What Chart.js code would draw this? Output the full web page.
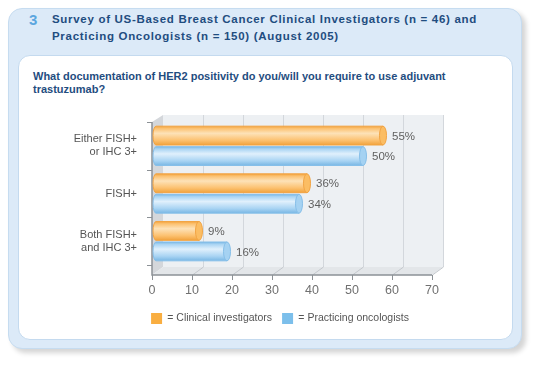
<!DOCTYPE html>
<html>
<head>
<meta charset="utf-8">
<script src="https://cdn.jsdelivr.net/npm/chart.js@4.4.1/dist/chart.umd.min.js"></script>
<style>
  body { margin: 0; background: #fff; width: 540px; height: 365px; position: relative; overflow: hidden; font-family: "Liberation Sans", Arial, sans-serif; }
  .outer { position: absolute; left: 8px; top: 8px; width: 512px; height: 339px; background: #dceaf8; border: 1px solid #c6dcf0; border-radius: 14px; box-shadow: 4px 4px 5px rgba(0,0,0,0.17); }
  .inner { position: absolute; left: 18px; top: 55px; width: 493px; height: 283px; background: #fff; border: 1px solid #c4daef; border-radius: 12px; }
  .num { position: absolute; left: 29px; top: 11px; font-weight: bold; font-size: 15px; color: #5ba6df; }
  .title { position: absolute; left: 52px; top: 11px; font-weight: bold; font-size: 11.5px; line-height: 17px; color: #1f4d80; letter-spacing: 0.7px; }
  .question { position: absolute; left: 33px; top: 70px; font-weight: bold; font-size: 11px; line-height: 13px; color: #1f4d80; }
  canvas { position: absolute; left: 0; top: 0; }
</style>
</head>
<body>
<div class="outer"></div>
<div class="inner"></div>
<div class="num">3</div>
<div class="title">Survey of US-Based Breast Cancer Clinical Investigators (n = 46) and<br>Practicing Oncologists (n = 150) (August 2005)</div>
<div class="question">What documentation of HER2 positivity do you/will you require to use adjuvant<br>trastuzumab?</div>
<canvas id="myChart" width="540" height="365"></canvas>
<script>
// data
const categories = [['Either FISH+', 'or IHC 3+'], 'FISH+', ['Both FISH+', 'and IHC 3+']];
const clinicalInvestigators = [55, 36, 9];
const practicingOncologists = [50, 34, 16];
const xTicks = [0, 10, 20, 30, 40, 50, 60, 70];

const ORANGE = '#f9ae41';
const BLUE = '#7cbfeb';
const DX = 11; // depth offset of the fake 3D floor
const DY = 8;

// shades for the cylinder gradients
const shades = {
  orange: { edge: '#f1a23c', light: '#fde2b8', mid: '#fcc170', stroke: '#f2a443', cap: '#fbbd63' },
  blue: { edge: '#79b7e4', light: '#e0f0fc', mid: '#a9d4f3', stroke: '#86bfe9', cap: '#a5d2f2' }
};

const threeD = {
  id: 'threeD',
  beforeDatasetsDraw(chart) {
    const { ctx, chartArea: a, scales } = chart;
    const xs = scales.x, ys = scales.y;
    const top = a.top - 7, back = a.bottom + 2, front = a.bottom + DY + 2;
    ctx.save();
    // back wall
    ctx.fillStyle = '#edf0f3';
    ctx.fillRect(a.left, top, a.right - a.left, back - top);
    // side wall
    ctx.fillStyle = '#d4d7db';
    ctx.beginPath();
    ctx.moveTo(a.left - DX, a.top);
    ctx.lineTo(a.left, top);
    ctx.lineTo(a.left, back);
    ctx.lineTo(a.left - DX, front);
    ctx.closePath();
    ctx.fill();
    // floor
    ctx.fillStyle = '#e3e6e9';
    ctx.beginPath();
    ctx.moveTo(a.left, back);
    ctx.lineTo(a.right, back);
    ctx.lineTo(a.right - DX, front);
    ctx.lineTo(a.left - DX, front);
    ctx.closePath();
    ctx.fill();
    // grid lines on wall and floor
    ctx.lineWidth = 1;
    xTicks.forEach(v => {
      if (v === 0) return;
      const x = Math.round(xs.getPixelForValue(v)) + 0.5;
      ctx.strokeStyle = '#d3d7dc';
      ctx.beginPath();
      ctx.moveTo(x, top);
      ctx.lineTo(x, back);
      ctx.stroke();
      ctx.strokeStyle = '#c4c8cd';
      ctx.beginPath();
      ctx.moveTo(x, back);
      ctx.lineTo(x - DX, front);
      ctx.stroke();
    });
    // front axes
    ctx.strokeStyle = '#8c9196';
    ctx.lineWidth = 1.5;
    ctx.beginPath();
    ctx.moveTo(a.left - DX, a.top);
    ctx.lineTo(a.left - DX, front);
    ctx.lineTo(a.right - DX, front);
    ctx.stroke();
    ctx.lineWidth = 1;
    xTicks.forEach(v => {
      const x = Math.round(xs.getPixelForValue(v) - DX) + 0.5;
      ctx.beginPath();
      ctx.moveTo(x, front);
      ctx.lineTo(x, front + 5);
      ctx.stroke();
    });
    for (let i = 0; i <= categories.length; i++) {
      const y = Math.round(ys.getPixelForValue(i - 0.5)) + 0.5;
      ctx.beginPath();
      ctx.moveTo(a.left - DX - 5, y);
      ctx.lineTo(a.left - DX, y);
      ctx.stroke();
    }
    ctx.restore();
  },
  afterDatasetsDraw(chart) {
    const { ctx, chartArea: a } = chart;
    const x0 = a.left - DX + 1;
    ctx.save();
    chart.data.datasets.forEach((ds, di) => {
      const s = shades[ds.shade];
      chart.getDatasetMeta(di).data.forEach((bar, i) => {
        const h = bar.height, yT = bar.y - h / 2, yB = bar.y + h / 2, xe = bar.x;
        const g = ctx.createLinearGradient(0, yT, 0, yB);
        g.addColorStop(0, s.edge);
        g.addColorStop(0.12, s.mid);
        g.addColorStop(0.38, s.light);
        g.addColorStop(0.75, s.mid);
        g.addColorStop(1, s.edge);
        ctx.fillStyle = g;
        ctx.strokeStyle = s.stroke;
        ctx.lineWidth = 1;
        ctx.beginPath();
        ctx.moveTo(x0 + 3, yT);
        ctx.lineTo(xe, yT);
        ctx.lineTo(xe, yB);
        ctx.lineTo(x0 + 3, yB);
        ctx.ellipse(x0 + 3, bar.y, 3, h / 2, 0, Math.PI / 2, Math.PI * 1.5);
        ctx.closePath();
        ctx.fill();
        ctx.stroke();
        // end cap
        ctx.fillStyle = s.cap;
        ctx.beginPath();
        ctx.ellipse(xe, bar.y, 3.5, h / 2, 0, 0, Math.PI * 2);
        ctx.fill();
        ctx.stroke();
        // value label
        ctx.fillStyle = '#5f5f5f';
        ctx.font = '11.5px "Liberation Sans", Arial, sans-serif';
        ctx.textBaseline = 'middle';
        ctx.textAlign = 'left';
        ctx.fillText(ds.data[i] + '%', xe + 9, bar.y + 1);
      });
    });
    ctx.restore();
  }
};

const ctx = document.getElementById('myChart').getContext('2d');
new Chart(ctx, {
  type: 'bar',
  data: {
    labels: categories,
    datasets: [
      { label: 'Clinical investigators', data: clinicalInvestigators, shade: 'orange', legendColor: ORANGE, backgroundColor: 'rgba(0,0,0,0)' },
      { label: 'Practicing oncologists', data: practicingOncologists, shade: 'blue', legendColor: BLUE, backgroundColor: 'rgba(0,0,0,0)' }
    ]
  },
  options: {
    indexAxis: 'y',
    responsive: false,
    animation: false,
    categoryPercentage: 0.86,
    barPercentage: 0.92,
    layout: { padding: { top: 122, left: 20, right: 0, bottom: 31 } },
    scales: {
      x: {
        min: 0,
        max: 70,
        afterFit: s => { s.height = 38; },
        grid: { display: false, drawTicks: false },
        border: { display: false },
        ticks: {
          stepSize: 10,
          padding: 18,
          labelOffset: -DX,
          color: '#707070',
          font: { family: '"Liberation Sans", Arial, sans-serif', size: 12.5 }
        }
      },
      y: {
        afterFit: s => { s.width = 143; },
        grid: { display: false, drawTicks: false },
        border: { display: false },
        ticks: {
          padding: 26,
          color: '#555',
          font: { family: '"Liberation Sans", Arial, sans-serif', size: 11, lineHeight: 1.2 }
        }
      },
      // empty right-hand spacer so the legend centres on the whole panel
      spacer: {
        type: 'linear',
        axis: 'y',
        position: 'right',
        afterFit: s => { s.width = 97; },
        grid: { display: false, drawTicks: false },
        border: { display: false },
        ticks: { display: false }
      }
    },
    plugins: {
      tooltip: { enabled: false },
      legend: {
        position: 'bottom',
        labels: {
          boxWidth: 11,
          boxHeight: 11,
          padding: 10,
          color: '#555',
          font: { family: '"Liberation Sans", Arial, sans-serif', size: 10.5 },
          generateLabels: chart => chart.data.datasets.map((ds, i) => ({
            text: '= ' + ds.label,
            fillStyle: ds.legendColor,
            strokeStyle: ds.legendColor,
            lineWidth: 0,
            fontColor: '#555',
            datasetIndex: i
          }))
        }
      }
    }
  },
  plugins: [threeD]
});
</script>
</body>
</html>
